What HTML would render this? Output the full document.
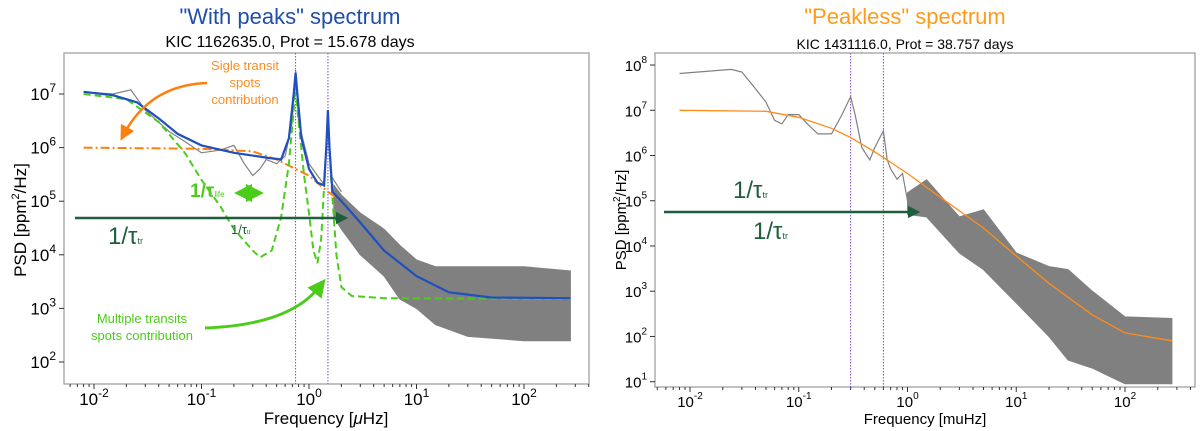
<!DOCTYPE html>
<html><head><meta charset="utf-8"><style>
body{margin:0;background:#fff;}
svg{display:block;font-family:"Liberation Sans","DejaVu Sans",sans-serif;}
</style></head><body>
<svg id="c" width="1200" height="431" viewBox="0 0 1200 431" xmlns="http://www.w3.org/2000/svg">
<defs>
<marker id="ao" markerWidth="6" markerHeight="6" refX="3" refY="3" orient="auto"><path d="M0,0L6,3L0,6Z" fill="#ff7f0e"/></marker>
<marker id="ag" markerWidth="6" markerHeight="6" refX="3" refY="3" orient="auto-start-reverse"><path d="M0,0L6,3L0,6Z" fill="#4ccc1a"/></marker>
<marker id="ad" markerWidth="5" markerHeight="5" refX="2.5" refY="2.5" orient="auto"><path d="M0,0L5,2.5L0,5Z" fill="#1e5e3c"/></marker>
<clipPath id="cl"><rect x="64" y="53" width="525" height="331"/></clipPath>
<clipPath id="cr"><rect x="655" y="53" width="540" height="334"/></clipPath>
</defs>
<text x="290" y="24" font-size="22" fill="#1f4fa8" text-anchor="middle">"With peaks" spectrum</text>
<text x="290" y="47" font-size="16" text-anchor="middle">KIC 1162635.0, Prot = 15.678 days</text>
<text x="905" y="24" font-size="22" fill="#ff9a1a" text-anchor="middle">"Peakless" spectrum</text>
<text x="905" y="49" font-size="14" text-anchor="middle">KIC 1431116.0, Prot = 38.757 days</text>
<g id="L"></g>
<g id="R"></g>
</svg>
<script>
// ---- Left panel data ----
const leftGrayLowF=[0.008,0.015,0.022,0.03,0.05,0.07,0.1,0.15,0.2,0.25,0.3,0.35,0.4,0.5,0.6,0.7,0.75,0.8,1.0,1.2,1.4,1.5,1.6,2];
const leftGrayLowP=[1.1e7,1.0e7,1.2e7,5e6,2e6,1.3e6,8e5,9e5,1.1e6,5e5,3e5,4e5,6e5,5e5,7e5,3e6,2.8e7,3e6,5e5,3e5,2e5,5e6,3e5,1.5e5];
const leftBandF=[1.7,2,3,5,7,10,15,30,100,270];
const leftBandHi=[2e5,1.3e5,6e4,3e4,1.5e4,8e3,6e3,6e3,6e3,5e3];
const leftBandLo=[5e4,3e4,1e4,4e3,1.5e3,1e3,5e2,3e2,2.5e2,2.5e2];
const blueF=[0.008,0.015,0.025,0.04,0.06,0.1,0.2,0.4,0.55,0.65,0.72,0.75,0.78,0.85,1.0,1.2,1.38,1.45,1.5,1.55,1.65,2,3,5,10,20,50,270];
const blueP=[1.1e7,9.5e6,7e6,3.5e6,1.8e6,1.1e6,8e5,6.5e5,6e5,1.5e6,1e7,2.5e7,1e7,1.5e6,4e5,2.2e5,2e5,1e6,5e6,1e6,1.5e5,1e5,4e4,1.2e4,4e3,2e3,1.6e3,1.55e3];
const orangeF=[0.008,0.1,0.3,0.5,1,1.5,2];
const orangeP=[1e6,9.5e5,8.5e5,6e5,3e5,1.5e5,1e5];
const greenF=[0.008,0.02,0.04,0.07,0.1,0.15,0.2,0.3,0.35,0.45,0.55,0.65,0.72,0.75,0.78,0.9,1.0,1.1,1.2,1.3,1.4,1.5,1.6,1.8,2,2.5,5,270];
const greenP=[1e7,8e6,3e6,8e5,2.5e5,8e4,3e4,1.2e4,9e3,1.2e4,5e4,5e5,5e6,2e7,5e6,3e5,6e4,1.2e4,7e3,2e4,3e5,4e6,3e5,1e4,2.5e3,1.7e3,1.55e3,1.5e3];
const leftVlines=[0.75,1.5];
const leftXTicks=[-2,-1,0,1,2];
const leftYTicks=[2,3,4,5,6,7];
// ---- Right panel data ----
const rightGrayLowF=[0.008,0.024,0.03,0.04,0.05,0.06,0.07,0.08,0.1,0.12,0.15,0.2,0.25,0.3,0.33,0.38,0.45,0.5,0.6,0.65,0.7,0.8,0.9,1.0];
const rightGrayLowP=[6.5e7,8e7,7e7,3e7,1.5e7,6e6,5e6,8e6,8e6,5e6,3e6,3e6,8e6,2e7,8e6,1.5e6,8e5,1.5e6,3.5e6,8e5,5e5,3e5,4e5,1e5];
const rightBandF=[1,1.5,3,5,10,20,30,50,100,270];
const rightBandHi=[1.5e5,2.9e5,4.4e4,6.3e4,7e3,3.5e3,3e3,1e3,2.7e2,2.5e2];
const rightBandLo=[5e4,4.4e4,7e3,3e3,5.5e2,1e2,3e1,2e1,9,9];
const rightModelF=[0.008,0.05,0.1,0.2,0.3,0.5,1,2,5,10,20,50,100,270];
const rightModelP=[1e7,9.5e6,7e6,4e6,2.5e6,1.2e6,4e5,1.2e5,2.5e4,6e3,1.5e3,3e2,1.2e2,8e1];
const rightVlines=[0.3,0.6];
const rightXTicks=[-2,-1,0,1,2];
const rightYTicks=[1,2,3,4,5,6,7,8];

const NS="http://www.w3.org/2000/svg";
function mk(parent,tag,attrs,name,text){const e=document.createElementNS(NS,tag);for(const k in attrs)e.setAttribute(k,attrs[k]);


if(text!==undefined)e.innerHTML=text;parent.appendChild(e);return e;}

function panel(g,ax){
 const X=f=>ax.x0+(Math.log10(f)-(-2))*ax.dx;
 const Y=p=>ax.y0-(Math.log10(p)-ax.yref)*ax.dy;
 ax.X=X;ax.Y=Y;
 mk(g,'rect',{x:ax.l,y:ax.t,width:ax.r-ax.l,height:ax.b-ax.t,fill:'none',stroke:'#999','stroke-width':1.2},'axes-frame');
 ax.xt.forEach(e=>{const x=X(Math.pow(10,e));
  mk(g,'line',{x1:x,x2:x,y1:ax.b,y2:ax.b+5,stroke:'#333'},'x-tick');
  mk(g,'text',{x:x,y:ax.b+ax.tlo,'font-size':ax.fs,'text-anchor':'middle'},'x-tick-label','10<tspan dy="-8" font-size="'+(ax.fs-5)+'">'+e+'</tspan>');
  for(let m=2;m<10;m++){const xm=X(m*Math.pow(10,e));if(xm<ax.r&&xm>ax.l)mk(g,'line',{x1:xm,x2:xm,y1:ax.b,y2:ax.b+3,stroke:'#333'},'x-minor-tick');}
  for(let m=2;m<10;m++){const xm=X(m*Math.pow(10,e-1));if(e===ax.xt[0]&&xm>ax.l)mk(g,'line',{x1:xm,x2:xm,y1:ax.b,y2:ax.b+3,stroke:'#333'},'x-minor-tick');}
 });
 ax.yt.forEach(e=>{const y=Y(Math.pow(10,e));
  mk(g,'line',{x1:ax.l-5,x2:ax.l,y1:y,y2:y,stroke:'#333'},'y-tick');
  mk(g,'text',{x:ax.l-8,y:y+6,'font-size':ax.fs,'text-anchor':'end'},'y-tick-label','10<tspan dy="-8" font-size="'+(ax.fs-5)+'">'+e+'</tspan>');
 });
 ax.vl.forEach(f=>mk(g,'line',{x1:X(f),x2:X(f),y1:ax.t,y2:ax.b,stroke:'#7b4fe0','stroke-width':1,'stroke-dasharray':'1.5,1.5'},'rotation-frequency-line'));
}
function path(F,P,ax){return F.map((f,i)=>(i?'L':'M')+ax.X(f).toFixed(1)+','+ax.Y(P[i]).toFixed(1)).join('');}
function band(F,H,Lo,ax){let d=F.map((f,i)=>(i?'L':'M')+ax.X(f).toFixed(1)+','+ax.Y(H[i]).toFixed(1)).join('');
 for(let i=F.length-1;i>=0;i--)d+='L'+ax.X(F[i]).toFixed(1)+','+ax.Y(Lo[i]).toFixed(1);return d+'Z';}

const L=document.getElementById('L'),R=document.getElementById('R');
const axL={l:64,r:589,t:53,b:384,x0:94,dx:107.5,y0:362,yref:2,dy:53.6,xt:leftXTicks,yt:leftYTicks,vl:leftVlines,fs:17,tlo:21};
const axR={l:655,r:1195,t:53,b:387,x0:690,dx:108.75,y0:381.7,yref:1,dy:45.24,xt:rightXTicks,yt:rightYTicks,vl:rightVlines,fs:15,tlo:20};
panel(L,axL);panel(R,axR);

// Left series
mk(L,'path',{d:band(leftBandF,leftBandHi,leftBandLo,axL),fill:'#808080',stroke:'#808080','stroke-width':1,'clip-path':'url(#cl)'},'observed-psd-noise-band');
mk(L,'path',{d:path(leftGrayLowF,leftGrayLowP,axL),fill:'none',stroke:'#808080','stroke-width':1.2},'observed-psd-line');
mk(L,'path',{d:path(orangeF,orangeP,axL),fill:'none',stroke:'#ff7f0e','stroke-width':2,'stroke-dasharray':'9,3,2,3'},'single-transit-model');
mk(L,'path',{d:path(greenF,greenP,axL),fill:'none',stroke:'#4ccc1a','stroke-width':2,'stroke-dasharray':'7,4'},'multiple-transits-model');
mk(L,'path',{d:path(blueF,blueP,axL),fill:'none',stroke:'#1f4fc0','stroke-width':2.2},'total-model');
// Left annotations
mk(L,'text',{x:245,y:70,'font-size':13,fill:'#ff8c1a','text-anchor':'middle'},'single-transit-label-1','Sigle transit');
mk(L,'text',{x:245,y:87,'font-size':13,fill:'#ff8c1a','text-anchor':'middle'},'single-transit-label-2','spots');
mk(L,'text',{x:245,y:104,'font-size':13,fill:'#ff8c1a','text-anchor':'middle'},'single-transit-label-3','contribution');
mk(L,'path',{d:'M207,83 Q150,85 124,134',fill:'none',stroke:'#ff7f0e','stroke-width':2.5,'marker-end':'url(#ao)'},'single-transit-arrow');
mk(L,'text',{x:142,y:323,'font-size':13,fill:'#4ccc1a','text-anchor':'middle'},'multiple-transits-label-1','Multiple transits');
mk(L,'text',{x:142,y:340,'font-size':13,fill:'#4ccc1a','text-anchor':'middle'},'multiple-transits-label-2','spots contribution');
mk(L,'path',{d:'M205,328 Q290,325 320,286',fill:'none',stroke:'#4ccc1a','stroke-width':3,'marker-end':'url(#ag)'},'multiple-transits-arrow');
mk(L,'text',{x:190,y:197,'font-size':19,'font-weight':'bold',fill:'#4ccc1a'},'tau-life-label','1/τ<tspan font-size="8" font-weight="normal">life</tspan>');
mk(L,'path',{d:'M243,193L255,193',stroke:'#4ccc1a','stroke-width':3,'marker-end':'url(#ag)','marker-start':'url(#ag)',fill:'none'},'tau-life-double-arrow');
mk(L,'line',{x1:75,y1:218,x2:342,y2:218,stroke:'#1e5e3c','stroke-width':2.5,'marker-end':'url(#ad)'},'tau-tr-arrow');
mk(L,'text',{x:108,y:244,'font-size':24,fill:'#1e5e3c'},'tau-tr-label-large','1/τ<tspan font-size="9">tr</tspan>');
mk(L,'text',{x:231,y:234,'font-size':13,fill:'#1e5e3c'},'tau-tr-label-small','1/τ<tspan font-size="6">tr</tspan>');
mk(L,'text',{x:26,y:220,'font-size':17,'text-anchor':'middle',transform:'rotate(-90 26 220)'},'left-y-axis-title','PSD [ppm<tspan dy="-7" font-size="11">2</tspan><tspan dy="7">/Hz]</tspan>');
mk(L,'text',{x:326,y:424,'font-size':17,'text-anchor':'middle'},'left-x-axis-title','Frequency [<tspan font-style="italic">μ</tspan>Hz]');

// Right series
mk(R,'path',{d:band(rightBandF,rightBandHi,rightBandLo,axR),fill:'#808080',stroke:'#808080','stroke-width':1,'clip-path':'url(#cr)'},'observed-psd-noise-band');
mk(R,'path',{d:path(rightGrayLowF,rightGrayLowP,axR),fill:'none',stroke:'#808080','stroke-width':1.2},'observed-psd-line');
mk(R,'path',{d:path(rightModelF,rightModelP,axR),fill:'none',stroke:'#ff8c1a','stroke-width':1.3},'model-fit');
mk(R,'line',{x1:664,y1:212,x2:914,y2:212,stroke:'#1e5e3c','stroke-width':2.5,'marker-end':'url(#ad)'},'tau-tr-arrow');
mk(R,'text',{x:733,y:198,'font-size':24,fill:'#1e5e3c'},'tau-tr-label-upper','1/τ<tspan font-size="9">tr</tspan>');
mk(R,'text',{x:753,y:239,'font-size':24,fill:'#1e5e3c'},'tau-tr-label-lower','1/τ<tspan font-size="9">tr</tspan>');
mk(R,'text',{x:626,y:220,'font-size':15,'text-anchor':'middle',transform:'rotate(-90 626 220)'},'right-y-axis-title','PSD [ppm<tspan dy="-6" font-size="10">2</tspan><tspan dy="6">/Hz]</tspan>');
mk(R,'text',{x:925,y:424,'font-size':15,'text-anchor':'middle'},'right-x-axis-title','Frequency [muHz]');
</script>
</body></html>
